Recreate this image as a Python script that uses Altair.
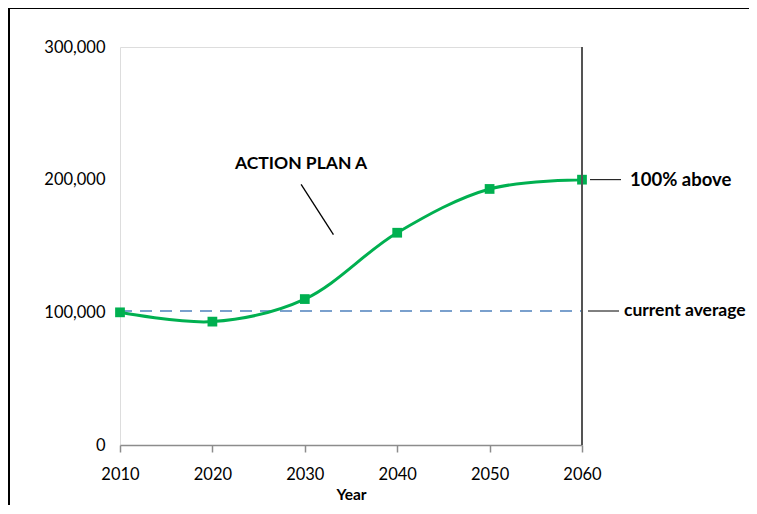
import altair as alt
import pandas as pd

years = [2010, 2020, 2030, 2040, 2050, 2060]
plan_a = [100000, 93000, 110000, 160000, 193000, 200000]
avg_years = [2010, 2060]
avg_value = [101000, 101000]
x_ticks = [2010, 2020, 2030, 2040, 2050, 2060]
y_ticks = [0, 100000, 200000, 300000]

FONT = "Lato"
W, H = 462, 398

df = pd.DataFrame({"year": years, "value": plan_a})
avg = pd.DataFrame({"year": avg_years, "value": avg_value})

xs = alt.Scale(domain=[2010, 2060], nice=False, zero=False)
ys = alt.Scale(domain=[0, 300000], nice=False)

X = alt.X("year:Q", scale=xs,
          axis=alt.Axis(values=x_ticks, format="d", title="Year", grid=False,
                        tickSize=7, tickColor="#8c8c8c", tickWidth=1.5,
                        domainColor="#8c8c8c", domainWidth=1.5, labelFlush=False,
                        labelPadding=14, labelFontSize=16.5, labelFont=FONT,
                        labelColor="#000", titleFont=FONT, titleFontSize=15.5,
                        titleFontWeight="bold", titleColor="#000", titlePadding=5))
Y = alt.Y("value:Q", scale=ys,
          axis=alt.Axis(values=y_ticks, format=",d", title=None, grid=False,
                        ticks=False, domain=False, labelPadding=15, labelFlush=False,
                        labelFontSize=16.5, labelFont=FONT, labelColor="#000"))

avg_line = alt.Chart(avg).mark_line(color="#4f81bd", strokeWidth=1.6,
                                    strokeDash=[12, 8]).encode(x=X, y=Y)

line = alt.Chart(df).mark_line(color="#00b050", strokeWidth=3,
                               interpolate="catmull-rom").encode(x=X, y=Y)
pts = alt.Chart(df).mark_square(color="#00b050", size=95, opacity=1).encode(x=X, y=Y)

# annotations
lab1 = pd.DataFrame({"year": [2060], "value": [200000], "label": ["100% above"]})
lab2 = pd.DataFrame({"year": [2060], "value": [101000], "label": ["current average"]})
t1 = alt.Chart(lab1).mark_text(font=FONT, fontWeight="bold", fontSize=18.5, dx=48,
                               align="left", baseline="middle", color="#000").encode(
    x=X, y=Y, text="label:N")
t2 = alt.Chart(lab2).mark_text(font=FONT, fontWeight="bold", fontSize=17.5, dx=42,
                               align="left", baseline="middle", color="#000").encode(
    x=X, y=Y, text="label:N")
l1 = alt.Chart(lab1).mark_rule(color="#000", strokeWidth=1).encode(
    x=alt.value(W + 8), x2=alt.value(W + 39), y=Y)
l2 = alt.Chart(lab2).mark_rule(color="#000", strokeWidth=1).encode(
    x=alt.value(W + 6), x2=alt.value(W + 37), y=Y)

ap = pd.DataFrame({"year": [2029.6], "value": [211500], "label": ["ACTION PLAN A"]})
ap_text = alt.Chart(ap).mark_text(font=FONT, fontWeight="bold", fontSize=17.5,
                                  align="center", baseline="middle",
                                  color="#000").encode(x=X, y=Y, text="label:N")
ap_lead_df = pd.DataFrame({"year": [2029.6], "value": [196500],
                           "year2": [2033.1], "value2": [158500]})
ap_lead = alt.Chart(ap_lead_df).mark_rule(color="#000", strokeWidth=1.3).encode(
    x=X, y=Y, x2="year2:Q", y2="value2:Q")

right_edge = alt.Chart(df).mark_rule(color="#555555", strokeWidth=1.8).encode(
    x=alt.value(W), y=alt.value(0), y2=alt.value(H))
border_left = alt.Chart(df).mark_rule(color="#000", strokeWidth=1.2).encode(
    x=alt.value(-111), y=alt.value(-40), y2=alt.value(H + 80))
border_top = alt.Chart(df).mark_rule(color="#000", strokeWidth=1.2).encode(
    x=alt.value(-111), x2=alt.value(W + 200), y=alt.value(-38.5))

chart = alt.layer(avg_line, line, pts, t1, t2, l1, l2, ap_text, ap_lead,
                  right_edge, border_left, border_top).properties(
    width=W, height=H,
    autosize=alt.AutoSizeParams(type="none"),
    padding={"left": 112, "top": 39, "right": 167, "bottom": 60},
).configure_view(stroke="#8c8c8c", strokeWidth=1.5).configure(background="white")

chart.save("out.html", embed_options={"renderer": "svg", "actions": False})
